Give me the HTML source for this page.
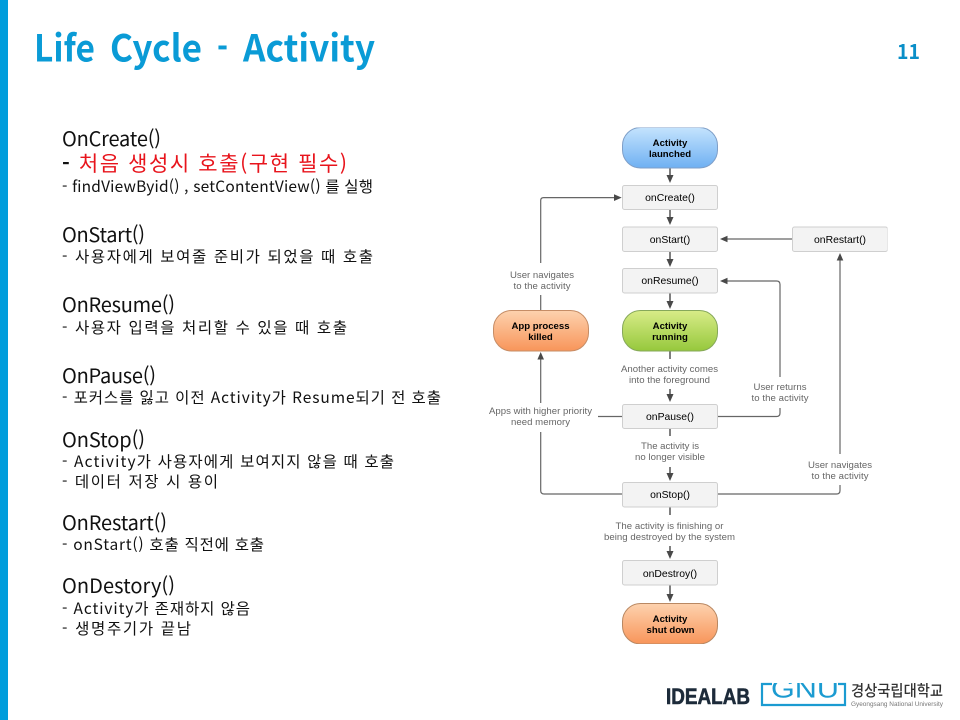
<!DOCTYPE html>
<html lang="ko">
<head>
<meta charset="utf-8">
<title>Life Cycle - Activity</title>
<style>
html,body{margin:0;padding:0;background:#fff;}
svg{display:block;}
.k{font-family:"Noto Sans CJK KR","Liberation Sans",sans-serif;fill:#111;}
.h{font-size:20px;font-weight:400;}
.s{font-size:15.5px;font-weight:400;}
.t{font-family:"Noto Sans CJK KR","Liberation Sans",sans-serif;font-size:37px;font-weight:700;fill:#0a9bd6;}
.d{font-family:"Liberation Sans",sans-serif;}
.l{font-size:9.6px;fill:#666;text-anchor:middle;}
.m{font-size:10.4px;fill:#000;text-anchor:middle;}
.b{font-size:9.6px;fill:#000;font-weight:bold;text-anchor:middle;}
.box{fill:#f3f3f3;stroke:#cfcfcf;stroke-width:1;}
.ln{fill:none;stroke:#666;stroke-width:1.2;}
.lc{fill:none;stroke:#555;stroke-width:1.5;}
.ar{fill:#4a4a4a;}
</style>
</head>
<body>
<svg xmlns="http://www.w3.org/2000/svg" width="960" height="720" viewBox="0 0 960 720">
<defs>
<linearGradient id="gb" x1="0" y1="0" x2="0" y2="1"><stop offset="0" stop-color="#c4e3fd"/><stop offset="1" stop-color="#6fb0f2"/></linearGradient>
<linearGradient id="gg" x1="0" y1="0" x2="0" y2="1"><stop offset="0" stop-color="#d8ec88"/><stop offset="1" stop-color="#96c83c"/></linearGradient>
<linearGradient id="go" x1="0" y1="0" x2="0" y2="1"><stop offset="0" stop-color="#fdd2ae"/><stop offset="1" stop-color="#f8955a"/></linearGradient>
<clipPath id="gnuclip"><rect x="770" y="683" width="70" height="16"/></clipPath>
<filter id="soft" x="0" y="0" width="100%" height="100%"><feGaussianBlur stdDeviation="0.35"/></filter>
</defs>
<rect width="960" height="720" fill="#fff"/>
<rect x="0" y="0" width="8" height="720" fill="#009ddc"/>

<text class="t" x="34" y="61.5" textLength="61" lengthAdjust="spacingAndGlyphs">Life</text>
<text class="t" x="110" y="61.5" textLength="92" lengthAdjust="spacingAndGlyphs">Cycle</text>
<text class="t" x="217" y="61.5" textLength="11" lengthAdjust="spacingAndGlyphs">-</text>
<text class="t" x="243" y="61.5" textLength="132" lengthAdjust="spacingAndGlyphs">Activity</text>
<text x="897" y="59" font-family="'Noto Sans CJK KR','Liberation Sans',sans-serif" font-size="20" font-weight="700" fill="#0a8fc8" textLength="23" lengthAdjust="spacingAndGlyphs">11</text>

<text class="k h" x="62" y="146" textLength="99">OnCreate()</text>
<text class="k" x="62" y="171" font-size="21" textLength="285" lengthAdjust="spacing"><tspan font-weight="700">- </tspan><tspan fill="#e8141c">처음 생성시 호출(구현 필수)</tspan></text>
<text class="k s" x="62" y="192" textLength="311">- findViewByid() , setContentView() 를 실행</text>

<text class="k h" x="62" y="242" textLength="83">OnStart()</text>
<text class="k s" x="62" y="262" textLength="311">- 사용자에게 보여줄 준비가 되었을 때 호출</text>

<text class="k h" x="62" y="312" textLength="113">OnResume()</text>
<text class="k s" x="62" y="333" textLength="285">- 사용자 입력을 처리할 수 있을 때 호출</text>

<text class="k h" x="62" y="383" textLength="94">OnPause()</text>
<text class="k s" x="62" y="403" textLength="379">- 포커스를 잃고 이전 Activity가 Resume되기 전 호출</text>

<text class="k h" x="62" y="447" textLength="83">OnStop()</text>
<text class="k s" x="62" y="467" textLength="332">- Activity가 사용자에게 보여지지 않을 때 호출</text>
<text class="k s" x="62" y="487" textLength="156">- 데이터 저장 시 용이</text>

<text class="k h" x="62" y="530" textLength="105">OnRestart()</text>
<text class="k s" x="62" y="550" textLength="202">- onStart() 호출 직전에 호출</text>

<text class="k h" x="62" y="593" textLength="113">OnDestory()</text>
<text class="k s" x="62" y="614" textLength="188">- Activity가 존재하지 않음</text>
<text class="k s" x="62" y="634" textLength="129">- 생명주기가 끝남</text>

<g filter="url(#soft)">
<!-- connectors -->
<path class="lc" d="M670 168V177M670 209.5V219M670 251V261M670 293V303M670 351V359M670 389V396M670 429V436M670 467V475M670 507V515M670 546V553M670 585V596"/>
<path class="ln" d="M540.7 310V295M540.7 263V200.5Q540.7 197.6 543.6 197.6H616"/>
<path class="ln" d="M792 239H726"/>
<path class="ln" d="M718 416.5H776.5Q780 416.5 780 413V408M780 377V284.5Q780 281 776.5 281H726"/>
<path class="ln" d="M718 494H836.5Q840 494 840 490.5V485M840 454V259"/>
<path class="ln" d="M622 416.5H598M540.7 432V490.5Q540.7 494 544.2 494H622M540.7 403V358"/>
<!-- arrowheads -->
<path class="ar" d="M666.5 175H673.5L670 183ZM666.5 217H673.5L670 225ZM666.5 259H673.5L670 267ZM666.5 301H673.5L670 309ZM666.5 394H673.5L670 402ZM666.5 473H673.5L670 481ZM666.5 551H673.5L670 559ZM666.5 594H673.5L670 602Z"/>
<path class="ar" d="M614 194.2V201L621.7 197.6Z"/>
<path class="ar" d="M727.5 235.7V242.3L720 239ZM727.5 277.7V284.3L720 281Z"/>
<path class="ar" d="M836.7 260.5H843.3L840 253ZM537.4 359.5H544L540.7 352Z"/>
<!-- nodes -->
<rect x="622.5" y="127.5" width="95" height="40.5" rx="18" fill="url(#gb)" stroke="#7f9fc8"/>
<rect x="622.5" y="185.5" width="95" height="24" rx="2" class="box"/>
<rect x="622.5" y="227" width="95" height="24.5" rx="2" class="box"/>
<rect x="622.5" y="268.5" width="95" height="24.5" rx="2" class="box"/>
<rect x="622.5" y="310.5" width="95" height="40.5" rx="18" fill="url(#gg)" stroke="#86a85a"/>
<rect x="493.5" y="310.5" width="95" height="40.5" rx="18" fill="url(#go)" stroke="#c68d66"/>
<rect x="792.5" y="227" width="95" height="24.5" rx="2" class="box"/>
<rect x="622.5" y="404.5" width="95" height="24" rx="2" class="box"/>
<rect x="622.5" y="482.5" width="95" height="24.5" rx="2" class="box"/>
<rect x="622.5" y="560.5" width="95" height="24.5" rx="2" class="box"/>
<rect x="622.5" y="603.5" width="95" height="40.5" rx="18" fill="url(#go)" stroke="#b98862"/>
<!-- node text -->
<g class="d">
<text class="b" x="670" y="146">Activity</text><text class="b" x="670" y="157">launched</text>
<text class="m" x="670" y="201">onCreate()</text>
<text class="m" x="670" y="243">onStart()</text>
<text class="m" x="670" y="284">onResume()</text>
<text class="b" x="670" y="329">Activity</text><text class="b" x="670" y="340">running</text>
<text class="b" x="540.5" y="329">App process</text><text class="b" x="540.5" y="340">killed</text>
<text class="m" x="840" y="243">onRestart()</text>
<text class="m" x="670" y="420">onPause()</text>
<text class="m" x="670" y="498">onStop()</text>
<text class="m" x="670" y="577">onDestroy()</text>
<text class="b" x="670" y="622">Activity</text><text class="b" x="670.5" y="633">shut down</text>
<!-- labels -->
<text class="l" x="542" y="278" textLength="64">User navigates</text><text class="l" x="542" y="289" textLength="57">to the activity</text>
<text class="l" x="669.5" y="372" textLength="97">Another activity comes</text><text class="l" x="669.5" y="383" textLength="81">into the foreground</text>
<text class="l" x="780" y="390" textLength="53">User returns</text><text class="l" x="780" y="401" textLength="57">to the activity</text>
<text class="l" x="540.5" y="414" textLength="103">Apps with higher priority</text><text class="l" x="540.5" y="425" textLength="59">need memory</text>
<text class="l" x="670" y="449" textLength="58">The activity is</text><text class="l" x="670" y="460" textLength="70">no longer visible</text>
<text class="l" x="840" y="468" textLength="64">User navigates</text><text class="l" x="840" y="479" textLength="57">to the activity</text>
<text class="l" x="669.5" y="529" textLength="108">The activity is finishing or</text><text class="l" x="669.5" y="540" textLength="131">being destroyed by the system</text>
</g>
</g>

<!-- footer logos -->
<text x="666" y="704" font-family="'Liberation Sans',sans-serif" font-size="22" font-weight="700" fill="#1d2b3a" stroke="#1d2b3a" stroke-width="0.6" textLength="84" lengthAdjust="spacingAndGlyphs">IDEALAB</text>
<path d="M772 684H762V705H845V684H838" fill="none" stroke="#1b9bd1" stroke-width="2.2"/>
<g clip-path="url(#gnuclip)"><text x="771" y="697.5" font-family="'Liberation Sans',sans-serif" font-size="26" fill="#1b9bd1" textLength="68" lengthAdjust="spacingAndGlyphs">GNU</text></g>
<text x="851" y="696" font-family="'Noto Sans CJK KR',sans-serif" font-size="15.5" font-weight="500" fill="#333" textLength="92" lengthAdjust="spacingAndGlyphs">경상국립대학교</text>
<text x="851" y="706" font-family="'Liberation Sans',sans-serif" font-size="6" fill="#777" textLength="92" lengthAdjust="spacingAndGlyphs">Gyeongsang National University</text>
</svg>
</body>
</html>
